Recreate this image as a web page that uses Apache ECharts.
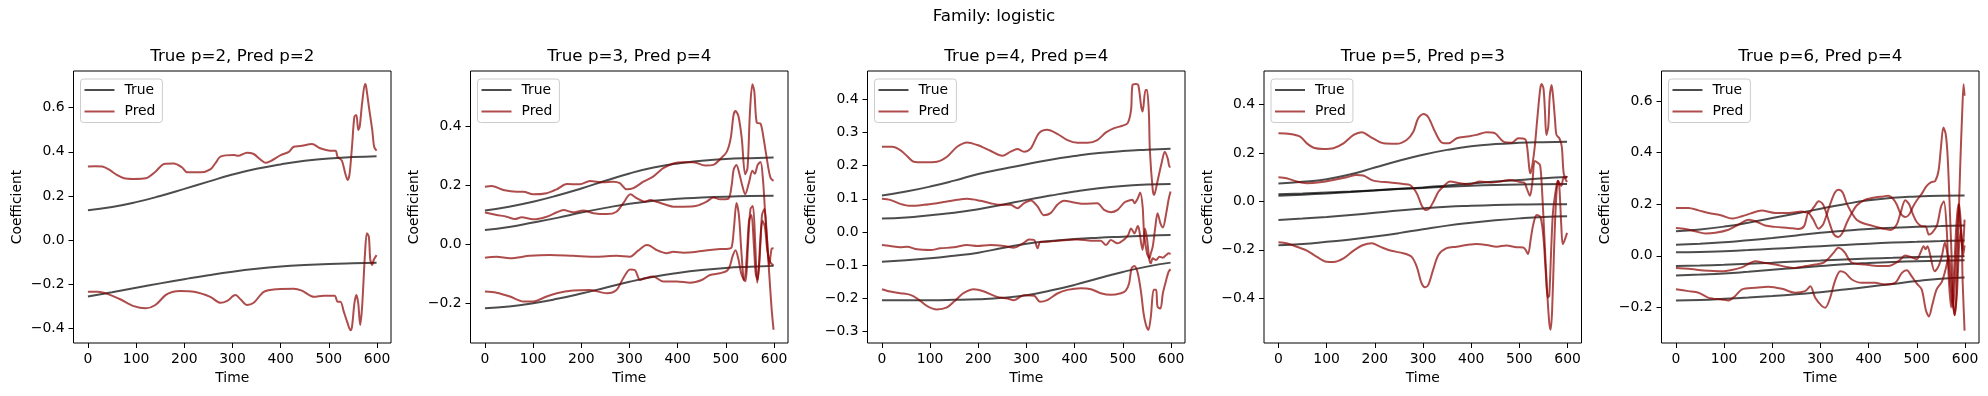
<!DOCTYPE html>
<html><head><meta charset="utf-8">
<script src="https://cdn.jsdelivr.net/npm/echarts@6/dist/echarts.min.js"></script>
<style>html,body{margin:0;padding:0;background:#fff}#c{width:1988px;height:396px}</style>
</head><body><div id="c"></div>
<script>
const suptitle = 'Family: logistic';
const panelTitles = ['True p=2, Pred p=2','True p=3, Pred p=4','True p=4, Pred p=4','True p=5, Pred p=3','True p=6, Pred p=4'];
const trueTimes = [0,50,100,150,200,250,300,350,400,450,500,550,599];
const xTicks = [0,100,200,300,400,500,600];

// ---- Panel 1 ----
const p1True = [
 [0.135,0.150,0.172,0.200,0.232,0.265,0.297,0.323,0.343,0.359,0.370,0.376,0.380],
 [-0.255,-0.236,-0.216,-0.196,-0.177,-0.159,-0.143,-0.130,-0.120,-0.113,-0.108,-0.105,-0.103]
];
const p1PredA = [[0,0.333],[15,0.335],[30,0.333],[45,0.318],[60,0.295],[75,0.28],[95,0.277],[120,0.28],[140,0.31],[158,0.345],[178,0.347],[195,0.33],[206,0.307],[234,0.307],[254,0.32],[265,0.35],[275,0.378],[303,0.385],[313,0.382],[330,0.396],[344,0.39],[358,0.365],[368,0.35],[379,0.358],[400,0.385],[417,0.40],[427,0.423],[441,0.426],[465,0.435],[482,0.416],[503,0.405],[514,0.405],[518,0.378],[527,0.36],[534,0.302],[539,0.272],[543,0.30],[548,0.423],[553,0.559],[557,0.567],[561,0.499],[564,0.514],[569,0.62],[575,0.707],[577,0.70],[583,0.605],[590,0.499],[594,0.423],[599,0.405]];
const p1PredB = [[0,-0.234],[19,-0.234],[35,-0.24],[47,-0.249],[68,-0.269],[95,-0.299],[120,-0.309],[140,-0.294],[161,-0.249],[175,-0.235],[192,-0.231],[220,-0.234],[254,-0.257],[275,-0.284],[289,-0.275],[306,-0.249],[317,-0.269],[330,-0.294],[344,-0.284],[365,-0.234],[393,-0.222],[427,-0.220],[444,-0.229],[469,-0.257],[489,-0.252],[512,-0.252],[518,-0.279],[524,-0.279],[531,-0.324],[538,-0.37],[545,-0.408],[548,-0.393],[553,-0.287],[557,-0.249],[561,-0.287],[565,-0.385],[569,-0.302],[575,-0.06],[579,0.031],[583,0.015],[586,-0.09],[590,-0.113],[593,-0.09],[599,-0.068]];

// ---- Panel 2 ----
const p2True = [
 [0.115,0.128,0.145,0.166,0.190,0.216,0.241,0.261,0.275,0.284,0.290,0.293,0.295],
 [0.049,0.059,0.074,0.090,0.108,0.124,0.138,0.148,0.155,0.159,0.162,0.164,0.165],
 [-0.217,-0.211,-0.200,-0.185,-0.167,-0.147,-0.127,-0.110,-0.097,-0.087,-0.080,-0.076,-0.073]
];
const p2PredA = [[0,0.196],[14,0.198],[38,0.185],[66,0.179],[80,0.179],[100,0.170],[128,0.174],[149,0.187],[170,0.205],[197,0.204],[218,0.215],[246,0.211],[266,0.213],[280,0.208],[294,0.187],[308,0.191],[329,0.213],[349,0.23],[370,0.259],[391,0.275],[412,0.279],[433,0.279],[457,0.268],[474,0.270],[488,0.289],[502,0.315],[510,0.36],[516,0.44],[520,0.453],[526,0.436],[533,0.36],[540,0.238],[545,0.26],[550,0.45],[555,0.544],[559,0.52],[564,0.414],[572,0.41],[578,0.363],[588,0.261],[593,0.225],[599,0.216]];
const p2PredB = [[0,0.108],[24,0.1],[45,0.094],[62,0.086],[76,0.092],[100,0.085],[128,0.094],[149,0.109],[163,0.117],[183,0.109],[204,0.115],[225,0.106],[253,0.103],[273,0.111],[287,0.14],[302,0.17],[315,0.157],[332,0.145],[343,0.151],[356,0.145],[377,0.134],[391,0.128],[412,0.128],[439,0.131],[460,0.145],[474,0.159],[488,0.153],[505,0.155],[512,0.2],[516,0.253],[522,0.27],[528,0.24],[534,0.2],[540,0.17],[548,0.21],[555,0.25],[560,0.24],[566,0.27],[572,0.28],[577,0.22],[581,0.12],[586,0.0],[590,-0.1],[595,-0.22],[599,-0.29]];
const p2PredC = [[0,-0.045],[24,-0.042],[52,-0.047],[93,-0.039],[135,-0.036],[183,-0.039],[232,-0.042],[273,-0.039],[301,-0.042],[318,-0.021],[336,-0.002],[343,-0.005],[356,-0.019],[377,-0.03],[391,-0.025],[412,-0.028],[439,-0.025],[467,-0.019],[488,-0.016],[505,-0.015],[512,-0.01],[517,0.06],[522,0.141],[527,0.1],[532,-0.02],[537,-0.12],[541,-0.125],[546,0.0],[551,0.12],[556,0.13],[561,0.0],[565,-0.13],[570,-0.05],[575,0.1],[580,0.12],[585,0.03],[590,-0.07],[595,-0.015],[599,-0.013]];
const p2PredD = [[0,-0.16],[24,-0.164],[52,-0.177],[80,-0.194],[100,-0.194],[128,-0.177],[149,-0.166],[183,-0.157],[218,-0.155],[253,-0.166],[273,-0.155],[287,-0.115],[301,-0.085],[311,-0.087],[322,-0.121],[332,-0.115],[349,-0.109],[370,-0.126],[398,-0.126],[426,-0.13],[450,-0.121],[467,-0.104],[488,-0.098],[502,-0.09],[508,-0.075],[514,-0.04],[520,-0.02],[526,-0.05],[532,-0.1],[538,-0.12],[543,-0.05],[548,0.08],[553,0.1],[558,0.0],[562,-0.1],[566,-0.12],[571,0.0],[576,0.08],[581,0.06],[586,-0.02],[592,-0.06],[599,-0.072]];

// ---- Panel 3 ----
const p3True = [
 [0.110,0.122,0.137,0.155,0.175,0.190,0.204,0.218,0.229,0.238,0.244,0.248,0.251],
 [0.041,0.044,0.051,0.058,0.069,0.082,0.097,0.110,0.122,0.132,0.139,0.143,0.145],
 [-0.089,-0.085,-0.079,-0.071,-0.062,-0.048,-0.035,-0.027,-0.021,-0.017,-0.014,-0.011,-0.009],
 [-0.205,-0.205,-0.205,-0.204,-0.202,-0.198,-0.190,-0.176,-0.159,-0.139,-0.120,-0.104,-0.092]
];
const p3PredA = [[0,0.257],[21,0.257],[38,0.247],[52,0.229],[66,0.212],[87,0.21],[114,0.212],[135,0.227],[156,0.257],[177,0.27],[198,0.262],[225,0.245],[250,0.23],[267,0.242],[281,0.25],[295,0.242],[309,0.252],[326,0.298],[343,0.308],[364,0.296],[385,0.277],[406,0.269],[427,0.269],[447,0.277],[465,0.3],[482,0.313],[499,0.32],[510,0.328],[517,0.368],[520,0.443],[527,0.446],[532,0.443],[538,0.378],[541,0.363],[547,0.428],[550,0.428],[554,0.358],[556,0.247],[562,0.127],[565,0.112],[571,0.147],[581,0.212],[587,0.242],[593,0.222],[597,0.197],[599,0.197]];
const p3PredB = [[0,0.1],[17,0.097],[38,0.085],[59,0.079],[87,0.082],[114,0.087],[135,0.092],[156,0.097],[177,0.1],[205,0.094],[225,0.087],[246,0.082],[267,0.082],[281,0.072],[295,0.087],[309,0.095],[323,0.077],[336,0.051],[350,0.057],[364,0.082],[378,0.094],[399,0.089],[420,0.085],[447,0.087],[461,0.067],[475,0.06],[489,0.067],[503,0.089],[513,0.095],[520,0.097],[524,0.087],[531,0.102],[536,0.119],[541,0.077],[544,-0.004],[550,-0.064],[555,-0.079],[558,-0.064],[562,-0.044],[567,0.011],[572,0.057],[578,0.026],[583,0.014],[590,0.057],[595,0.099],[599,0.122]];
const p3PredC = [[0,-0.039],[17,-0.042],[38,-0.046],[52,-0.044],[73,-0.052],[101,-0.054],[121,-0.049],[149,-0.046],[177,-0.039],[198,-0.042],[225,-0.039],[253,-0.042],[274,-0.047],[295,-0.032],[305,-0.022],[316,-0.024],[323,-0.049],[329,-0.029],[343,-0.029],[364,-0.026],[385,-0.024],[406,-0.022],[434,-0.026],[454,-0.026],[465,-0.039],[475,-0.024],[489,-0.034],[503,-0.022],[511,-0.009],[517,0.011],[524,-0.004],[531,0.018],[534,0.006],[538,-0.034],[541,-0.054],[546,0.011],[550,-0.019],[555,-0.084],[558,-0.094],[562,-0.079],[569,-0.084],[576,-0.074],[583,-0.077],[590,-0.069],[595,-0.064],[599,-0.066]];
const p3PredD = [[0,-0.172],[17,-0.179],[38,-0.184],[59,-0.189],[73,-0.2],[94,-0.223],[114,-0.233],[135,-0.227],[149,-0.21],[170,-0.183],[191,-0.172],[212,-0.179],[239,-0.195],[260,-0.2],[274,-0.205],[295,-0.19],[316,-0.192],[328,-0.21],[343,-0.205],[364,-0.185],[385,-0.174],[413,-0.169],[434,-0.172],[454,-0.184],[475,-0.189],[496,-0.184],[506,-0.176],[513,-0.154],[518,-0.109],[524,-0.102],[531,-0.124],[538,-0.184],[543,-0.245],[548,-0.28],[553,-0.295],[558,-0.255],[564,-0.174],[569,-0.174],[572,-0.225],[578,-0.23],[583,-0.184],[590,-0.144],[595,-0.119],[599,-0.112]];

// ---- Panel 4 ----
const p4True = [
 [0.074,0.081,0.092,0.112,0.140,0.168,0.193,0.213,0.228,0.237,0.242,0.245,0.247],
 [0.030,0.033,0.037,0.041,0.046,0.052,0.058,0.066,0.074,0.082,0.089,0.096,0.101],
 [0.023,0.028,0.033,0.039,0.045,0.051,0.056,0.061,0.065,0.068,0.070,0.071,0.072],
 [-0.077,-0.071,-0.064,-0.056,-0.047,-0.037,-0.029,-0.022,-0.018,-0.015,-0.013,-0.012,-0.012],
 [-0.181,-0.176,-0.167,-0.157,-0.145,-0.131,-0.115,-0.100,-0.088,-0.078,-0.070,-0.064,-0.061]
];
const p4PredA = [[0,0.282],[24,0.279],[45,0.268],[59,0.24],[73,0.222],[93,0.217],[114,0.22],[135,0.24],[156,0.275],[173,0.286],[190,0.268],[218,0.24],[245,0.238],[266,0.254],[280,0.288],[290,0.344],[301,0.361],[311,0.348],[325,0.288],[339,0.243],[353,0.24],[370,0.261],[391,0.268],[411,0.275],[432,0.286],[449,0.282],[467,0.247],[484,0.243],[498,0.261],[512,0.257],[516,0.227],[521,0.13],[523,0.116],[527,0.151],[532,0.227],[537,0.337],[543,0.461],[546,0.485],[550,0.467],[553,0.378],[556,0.275],[560,0.309],[563,0.433],[567,0.481],[570,0.433],[574,0.337],[577,0.275],[583,0.261],[588,0.227],[592,0.116],[597,0.096],[599,0.105]];
const p4PredB = [[0,0.1],[17,0.096],[38,0.082],[59,0.075],[86,0.079],[114,0.089],[142,0.1],[162,0.109],[176,0.107],[197,0.086],[232,0.078],[259,0.072],[273,0.068],[287,0.034],[298,-0.02],[306,-0.035],[313,-0.03],[322,0.0],[332,0.04],[342,0.061],[356,0.082],[377,0.075],[397,0.071],[418,0.082],[439,0.078],[460,0.082],[480,0.089],[501,0.08],[510,0.078],[516,0.05],[522,0.023],[527,0.08],[532,0.167],[538,0.16],[543,0.15],[547,0.05],[552,-0.15],[557,-0.35],[562,-0.5],[565,-0.53],[568,-0.45],[572,-0.2],[576,0.0],[580,0.085],[583,0.06],[587,-0.1],[590,-0.177],[594,-0.16],[599,-0.13]];
const p4PredC = [[0,-0.169],[17,-0.173],[38,-0.187],[59,-0.203],[79,-0.228],[100,-0.249],[114,-0.25],[135,-0.235],[156,-0.203],[176,-0.18],[194,-0.173],[211,-0.187],[232,-0.203],[259,-0.214],[276,-0.228],[287,-0.269],[297,-0.338],[304,-0.355],[311,-0.345],[321,-0.283],[332,-0.221],[349,-0.193],[370,-0.187],[391,-0.18],[411,-0.176],[432,-0.18],[453,-0.187],[473,-0.182],[494,-0.189],[508,-0.19],[513,-0.2],[518,-0.218],[524,-0.15],[529,-0.094],[536,-0.056],[544,-0.066],[550,-0.15],[555,-0.3],[559,-0.397],[562,-0.39],[566,-0.2],[570,-0.039],[577,0.064],[580,0.085],[587,0.064],[592,0.1],[599,0.08]];

// ---- Panel 5 ----
const p5True = [
 [0.095,0.102,0.113,0.128,0.146,0.164,0.182,0.200,0.215,0.225,0.230,0.233,0.234],
 [0.043,0.047,0.052,0.060,0.069,0.079,0.089,0.097,0.104,0.109,0.112,0.115,0.117],
 [0.014,0.015,0.018,0.022,0.027,0.032,0.037,0.042,0.047,0.051,0.054,0.057,0.059],
 [-0.040,-0.038,-0.035,-0.031,-0.027,-0.022,-0.018,-0.014,-0.011,-0.008,-0.005,-0.003,-0.002],
 [-0.076,-0.073,-0.069,-0.062,-0.054,-0.047,-0.040,-0.033,-0.028,-0.024,-0.021,-0.019,-0.017],
 [-0.173,-0.171,-0.167,-0.162,-0.156,-0.149,-0.141,-0.131,-0.120,-0.109,-0.098,-0.089,-0.084]
];
const p5PredA = [[0,0.185],[26,0.185],[47,0.176],[68,0.166],[95,0.156],[116,0.144],[137,0.153],[158,0.166],[178,0.175],[206,0.166],[234,0.166],[261,0.172],[275,0.166],[287,0.19],[296,0.211],[305,0.2],[313,0.16],[320,0.12],[327,0.085],[337,0.073],[346,0.09],[355,0.13],[365,0.166],[375,0.195],[390,0.215],[410,0.225],[430,0.23],[441,0.233],[450,0.222],[458,0.2],[466,0.165],[476,0.15],[484,0.16],[492,0.19],[500,0.215],[510,0.24],[520,0.27],[530,0.285],[538,0.29],[545,0.33],[550,0.42],[555,0.497],[560,0.47],[564,0.38],[569,0.15],[573,-0.05],[576,-0.2],[579,-0.23],[582,-0.15],[586,0.1],[590,0.35],[594,0.55],[597,0.665],[599,0.62]];
const p5PredB = [[0,0.108],[19,0.104],[40,0.095],[61,0.086],[82,0.089],[109,0.101],[130,0.121],[151,0.14],[165,0.134],[185,0.117],[206,0.112],[234,0.108],[254,0.104],[266,0.115],[275,0.166],[285,0.14],[296,0.105],[305,0.12],[313,0.16],[322,0.21],[330,0.245],[337,0.256],[346,0.245],[355,0.2],[365,0.166],[375,0.14],[390,0.125],[410,0.115],[430,0.105],[445,0.1],[458,0.12],[466,0.165],[476,0.215],[484,0.2],[492,0.16],[500,0.13],[510,0.115],[518,0.114],[525,0.082],[532,0.09],[542,0.12],[550,0.19],[556,0.211],[562,0.1],[566,-0.08],[571,-0.2],[576,-0.1],[582,0.12],[586,0.2],[590,0.12],[595,0.02],[599,0.14]];
const p5PredC = [[0,-0.047],[26,-0.05],[47,-0.055],[68,-0.058],[95,-0.06],[116,-0.055],[137,-0.045],[165,-0.021],[185,-0.028],[206,-0.034],[247,-0.047],[270,-0.04],[289,-0.034],[306,-0.027],[317,-0.01],[327,0.011],[337,0.031],[344,0.025],[351,0.011],[365,-0.027],[393,-0.034],[420,-0.04],[441,-0.04],[462,-0.021],[476,0.001],[486,-0.004],[500,-0.013],[507,0.01],[514,0.037],[518,0.025],[522,0.037],[528,0.0],[537,-0.06],[545,-0.04],[552,0.0],[558,0.05],[564,0.0],[570,-0.12],[575,-0.2],[579,-0.1],[584,0.1],[588,0.2],[592,0.1],[596,0.0],[599,0.04]];
const p5PredD = [[0,-0.13],[26,-0.137],[47,-0.143],[68,-0.163],[95,-0.169],[109,-0.173],[123,-0.156],[137,-0.13],[165,-0.124],[192,-0.12],[220,-0.128],[247,-0.143],[268,-0.137],[279,-0.118],[289,-0.163],[303,-0.195],[310,-0.201],[320,-0.163],[330,-0.098],[341,-0.06],[351,-0.066],[365,-0.092],[386,-0.105],[413,-0.105],[434,-0.111],[455,-0.105],[469,-0.066],[479,-0.056],[489,-0.079],[500,-0.108],[510,-0.13],[519,-0.213],[525,-0.235],[532,-0.19],[541,-0.13],[552,-0.1],[560,-0.05],[566,0.0],[572,-0.1],[578,-0.23],[583,-0.15],[588,0.05],[592,0.1],[595,-0.1],[599,-0.29]];

// axis limits and ticks
const xLimits = [-29.95, 628.95];
const yLimits = [[-0.466,0.766],[-0.335,0.589],[-0.334,0.485],[-0.585,0.539],[-0.338,0.716]];
const yTicks = [[-0.4,-0.2,0,0.2,0.4,0.6],[-0.2,0,0.2,0.4],[-0.3,-0.2,-0.1,0,0.1,0.2,0.3,0.4],[-0.4,-0.2,0,0.2,0.4],[-0.2,0,0.2,0.4,0.6]];

const panelTrue = [p1True,p2True,p3True,p4True,p5True];
const panelPred = [[p1PredA,p1PredB],[p2PredA,p2PredB,p2PredC,p2PredD],[p3PredA,p3PredB,p3PredC,p3PredD],[p4PredA,p4PredB,p4PredC],[p5PredA,p5PredB,p5PredC,p5PredD]];

// layout
const gridLefts = [73.5,470.5,867.5,1264,1661.5];
const gridW = 317.5, gridTop = 71, gridH = 272;
const FONT = 'DejaVu Sans';
const TRUE_COLOR = 'rgba(0,0,0,0.7)';
const PRED_COLOR = 'rgba(139,0,0,0.7)';
const fmtY = v => (v < 0 ? '\u2212' : '') + Math.abs(v).toFixed(1);

const grids=[], xAxes=[], yAxes=[], series=[], legends=[], titles=[];
titles.push({text: suptitle, left: 994, top: 8, textAlign:'center', padding:0,
  textStyle:{fontFamily:FONT,fontSize:16.7,fontWeight:'normal',color:'#000'}});
for (let i=0;i<5;i++){
  grids.push({left:gridLefts[i], top:gridTop, width:gridW, height:gridH, show:true, borderColor:'#000', borderWidth:1, backgroundColor:'transparent'});
  titles.push({text: panelTitles[i], left: gridLefts[i]+gridW/2, top: 48, textAlign:'center', padding:0,
    textStyle:{fontFamily:FONT,fontSize:16.7,fontWeight:'normal',color:'#000'}});
  xAxes.push({type:'value', gridIndex:i, min:xLimits[0], max:xLimits[1],
    name:'Time', nameLocation:'middle', nameGap:28,
    nameTextStyle:{fontFamily:FONT,fontSize:13.9,color:'#000'},
    axisLine:{show:false, onZero:false}, splitLine:{show:false},
    axisTick:{show:true, inside:false, length:5, lineStyle:{color:'#000',width:1}, customValues:xTicks},
    axisLabel:{fontFamily:FONT,fontSize:13.9,color:'#000',margin:9, customValues:xTicks, formatter:v=>String(Math.round(v))}});
  yAxes.push({type:'value', gridIndex:i, min:yLimits[i][0], max:yLimits[i][1],
    name:'Coefficient', nameLocation:'middle', nameGap:49,
    nameTextStyle:{fontFamily:FONT,fontSize:13.9,color:'#000'},
    axisLine:{show:false, onZero:false}, splitLine:{show:false},
    axisTick:{show:true, inside:false, length:5, lineStyle:{color:'#000',width:1}, customValues:yTicks[i]},
    axisLabel:{fontFamily:FONT,fontSize:13.9,color:'#000',margin:9, customValues:yTicks[i], formatter:fmtY}});
  panelTrue[i].forEach(vals=>{
    series.push({name:'True', type:'line', xAxisIndex:i, yAxisIndex:i, symbol:'none', smooth:true,
      data: vals.map((v,k)=>[trueTimes[k], v]),
      lineStyle:{color:TRUE_COLOR,width:2}, itemStyle:{color:TRUE_COLOR}, emphasis:{disabled:true}, animation:false});
  });
  panelPred[i].forEach(pts=>{
    series.push({name:'Pred', type:'line', xAxisIndex:i, yAxisIndex:i, symbol:'none', smooth:0.3,
      data: pts,
      lineStyle:{color:PRED_COLOR,width:2}, itemStyle:{color:PRED_COLOR}, emphasis:{disabled:true}, animation:false});
  });
  legends.push({left:gridLefts[i]+7, top:79, orient:'vertical', data:['True','Pred'],
    icon:'rect', itemWidth:30, itemHeight:2, itemGap:5.5, padding:[3,7,3,4],
    backgroundColor:'rgba(255,255,255,0.8)', borderColor:'#cccccc', borderWidth:1, borderRadius:3,
    selectedMode:false,
    textStyle:{fontFamily:FONT,fontSize:13.9,color:'#000',lineHeight:16,padding:[0,0,0,5]}});
}
const chart = echarts.init(document.getElementById('c'), null, {renderer:'canvas'});
chart.setOption({animation:false, backgroundColor:'#fff', title:titles, grid:grids, xAxis:xAxes, yAxis:yAxes, legend:legends, series:series});
</script></body></html>
